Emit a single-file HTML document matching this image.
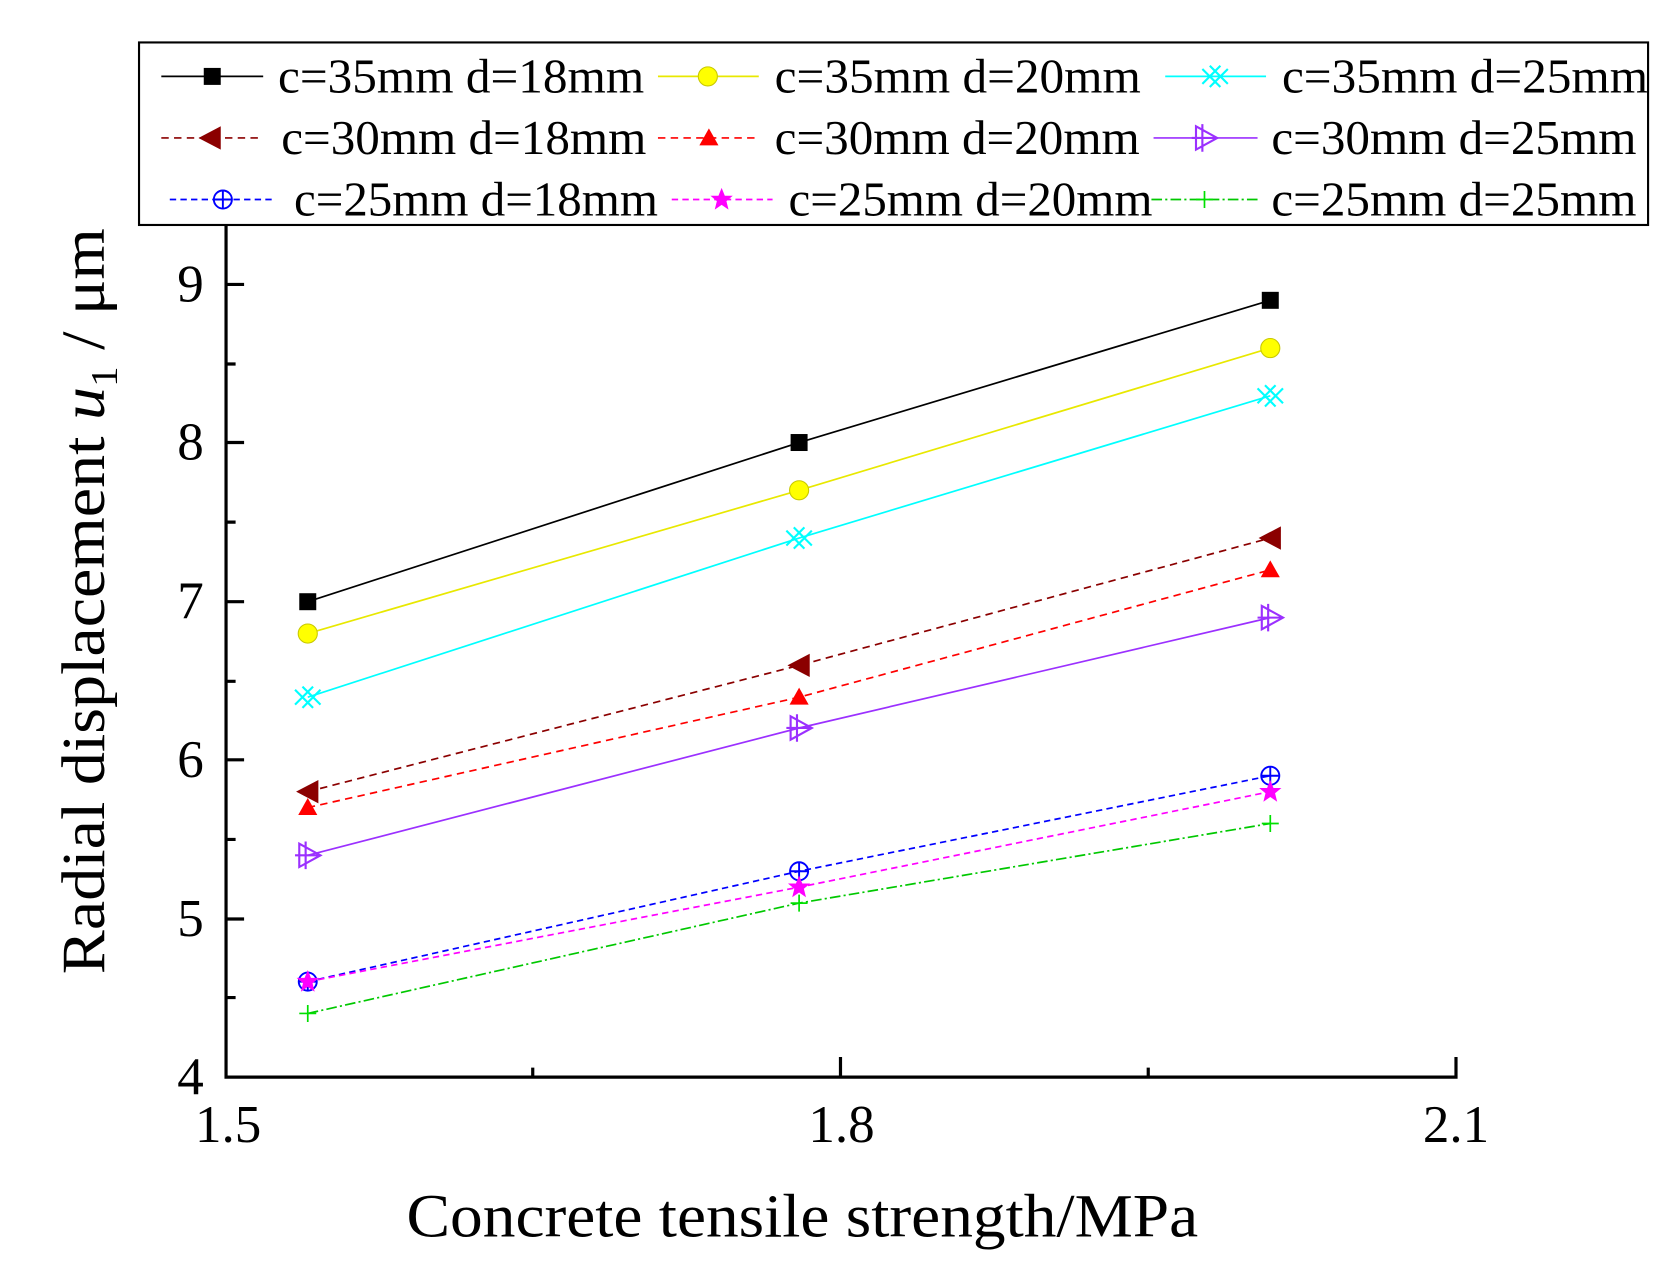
<!DOCTYPE html>
<html><head><meta charset="utf-8"><style>html,body{margin:0;padding:0;background:#fff}svg{display:block}svg text{font-family:"Liberation Serif","Times New Roman",serif}</style></head>
<body>
<svg width="1664" height="1276" viewBox="0 0 1568 1202.4" xmlns="http://www.w3.org/2000/svg">
<defs>
<g id="sq"><rect x="-8" y="-8" width="16" height="16" fill="#000"/></g>
<g id="ci"><circle r="9" fill="#ffff00" stroke="#c8c800" stroke-width="1"/></g>
<g id="cx" fill="none" stroke="#00ffff" stroke-width="2"><path d="M-12,-7 L2,7 M-12,7 L2,-7 M-2,-7 L12,7 M-2,7 L12,-7 M-5,-10 L5,0 L-5,10 M5,-10 L-5,0 L5,10"/></g>
<g id="lt"><path d="M-11,0 L10,-11 L10,11 Z" fill="#8b0000"/></g>
<g id="ut"><path d="M0,-9 L9,7 L-9,7 Z" fill="#ff0000"/></g>
<g id="rt" fill="none" stroke="#9b30ff" stroke-width="2"><path d="M-8,-11 L12,0 L-8,11 Z M-12,0 L12,0 M-2,-13 L-2,13"/></g>
<g id="cp" fill="none" stroke="#0000ff" stroke-width="1.8"><circle r="8.5"/><path d="M-8.5,0 L8.5,0 M0,-8.5 L0,8.5"/></g>
<g id="st"><path d="M0,-11 L3,-3.5 L10.5,-3.5 L4.5,1.5 L6.5,9.5 L0,5 L-6.5,9.5 L-4.5,1.5 L-10.5,-3.5 L-3,-3.5 Z" fill="#ff00ff"/></g>
<g id="pl" fill="none" stroke="#00e000" stroke-width="1.6"><path d="M-8,0 L8,0 M0,-8 L0,8"/></g>
</defs>
<g stroke="#000" stroke-width="3" fill="none">
<path d="M213,212 L213,1015 L1372,1015 L1372,996"/>
<path d="M213,268 L230,268 M213,417 L230,417 M213,567 L230,567 M213,716 L230,716 M213,866 L230,866"/>
<path d="M213,343 L222,343 M213,492 L222,492 M213,642 L222,642 M213,791 L222,791 M213,940 L222,940"/>
<path d="M792,1015 L792,996 M502,1015 L502,1006 M1082,1015 L1082,1006"/>
</g>
<g font-size="50" fill="#000" text-anchor="end">
<text x="192" y="284">9</text><text x="192" y="433">8</text><text x="192" y="583">7</text><text x="192" y="732">6</text><text x="192" y="882">5</text><text x="192" y="1031">4</text>
</g>
<g font-size="50" fill="#000" text-anchor="middle">
<text x="215" y="1076">1.5</text><text x="793" y="1076">1.8</text><text x="1372" y="1076">2.1</text>
</g>
<text x="756" y="1165" font-size="58" text-anchor="middle" textLength="746" lengthAdjust="spacingAndGlyphs">Concrete tensile strength/MPa</text>
<text transform="translate(98,918) rotate(-90)" font-size="58" textLength="703" lengthAdjust="spacingAndGlyphs">Radial displacement <tspan font-style="italic">u</tspan><tspan font-size="36" dy="12">1</tspan><tspan dy="-12"> / μm</tspan></text>
<g fill="none" stroke-width="1.6">
<polyline stroke="#000" points="290,567 753,417 1197,283"/>
<polyline stroke="#e8e800" points="290,597 753,462 1197,328"/>
<polyline stroke="#00ffff" points="290,657 753,507 1197,373"/>
<polyline stroke="#8b0000" stroke-dasharray="7,5" points="290,746 753,627 1197,507"/>
<polyline stroke="#ff0000" stroke-dasharray="7,5" points="290,761 753,657 1197,537"/>
<polyline stroke="#9b30ff" points="290,806 753,686 1197,582"/>
<polyline stroke="#0000ff" stroke-dasharray="6,4" points="290,925 753,821 1197,731"/>
<polyline stroke="#ff00ff" stroke-dasharray="6,4" points="290,925 753,836 1197,746"/>
<polyline stroke="#00c800" stroke-dasharray="10,3,2,3" points="290,955 753,851 1197,776"/>
</g>
<use href="#sq" x="290" y="567"/><use href="#sq" x="753" y="417"/><use href="#sq" x="1197" y="283"/>
<use href="#ci" x="290" y="597"/><use href="#ci" x="753" y="462"/><use href="#ci" x="1197" y="328"/>
<use href="#cx" x="290" y="657"/><use href="#cx" x="753" y="507"/><use href="#cx" x="1197" y="373"/>
<use href="#lt" x="290" y="746"/><use href="#lt" x="753" y="627"/><use href="#lt" x="1197" y="507"/>
<use href="#ut" x="290" y="761"/><use href="#ut" x="753" y="657"/><use href="#ut" x="1197" y="537"/>
<use href="#rt" x="290" y="806"/><use href="#rt" x="753" y="686"/><use href="#rt" x="1197" y="582"/>
<use href="#cp" x="290" y="925"/><use href="#cp" x="753" y="821"/><use href="#cp" x="1197" y="731"/>
<use href="#st" x="290" y="925"/><use href="#st" x="753" y="836"/><use href="#st" x="1197" y="746"/>
<use href="#pl" x="290" y="955"/><use href="#pl" x="753" y="851"/><use href="#pl" x="1197" y="776"/>
<rect x="131" y="40" width="1422" height="172" fill="#fff" stroke="#000" stroke-width="2"/>
<g fill="none" stroke-width="1.6">
<line x1="152" y1="72" x2="248" y2="72" stroke="#000"/>
<line x1="620" y1="72" x2="715" y2="72" stroke="#e8e800"/>
<line x1="1098" y1="72" x2="1193" y2="72" stroke="#00ffff"/>
<line x1="152" y1="130" x2="248" y2="130" stroke="#8b0000" stroke-dasharray="7,5"/>
<line x1="620" y1="130" x2="715" y2="130" stroke="#ff0000" stroke-dasharray="7,5"/>
<line x1="1087" y1="130" x2="1185" y2="130" stroke="#9b30ff"/>
<line x1="160" y1="188" x2="258" y2="188" stroke="#0000ff" stroke-dasharray="6,4"/>
<line x1="633" y1="188" x2="728" y2="188" stroke="#ff00ff" stroke-dasharray="6,4"/>
<line x1="1085" y1="188" x2="1185" y2="188" stroke="#00c800" stroke-dasharray="10,3,2,3"/>
</g>
<use href="#sq" x="200" y="72"/><use href="#ci" x="667" y="72"/><use href="#cx" x="1145" y="72"/>
<use href="#lt" x="198" y="130"/><use href="#ut" x="668" y="130"/><use href="#rt" x="1135" y="130"/>
<use href="#cp" x="210" y="188"/><use href="#st" x="680" y="188"/><use href="#pl" x="1135" y="188"/>
<g font-size="46" fill="#000">
<text x="262" y="87" textLength="345" lengthAdjust="spacingAndGlyphs">c=35mm d=18mm</text>
<text x="730" y="87" textLength="345" lengthAdjust="spacingAndGlyphs">c=35mm d=20mm</text>
<text x="1208" y="87" textLength="345" lengthAdjust="spacingAndGlyphs">c=35mm d=25mm</text>
<text x="265" y="145" textLength="344" lengthAdjust="spacingAndGlyphs">c=30mm d=18mm</text>
<text x="730" y="145" textLength="344" lengthAdjust="spacingAndGlyphs">c=30mm d=20mm</text>
<text x="1198" y="145" textLength="344" lengthAdjust="spacingAndGlyphs">c=30mm d=25mm</text>
<text x="277" y="203" textLength="343" lengthAdjust="spacingAndGlyphs">c=25mm d=18mm</text>
<text x="743" y="203" textLength="343" lengthAdjust="spacingAndGlyphs">c=25mm d=20mm</text>
<text x="1198" y="203" textLength="344" lengthAdjust="spacingAndGlyphs">c=25mm d=25mm</text>
</g>
</svg>
</body></html>
